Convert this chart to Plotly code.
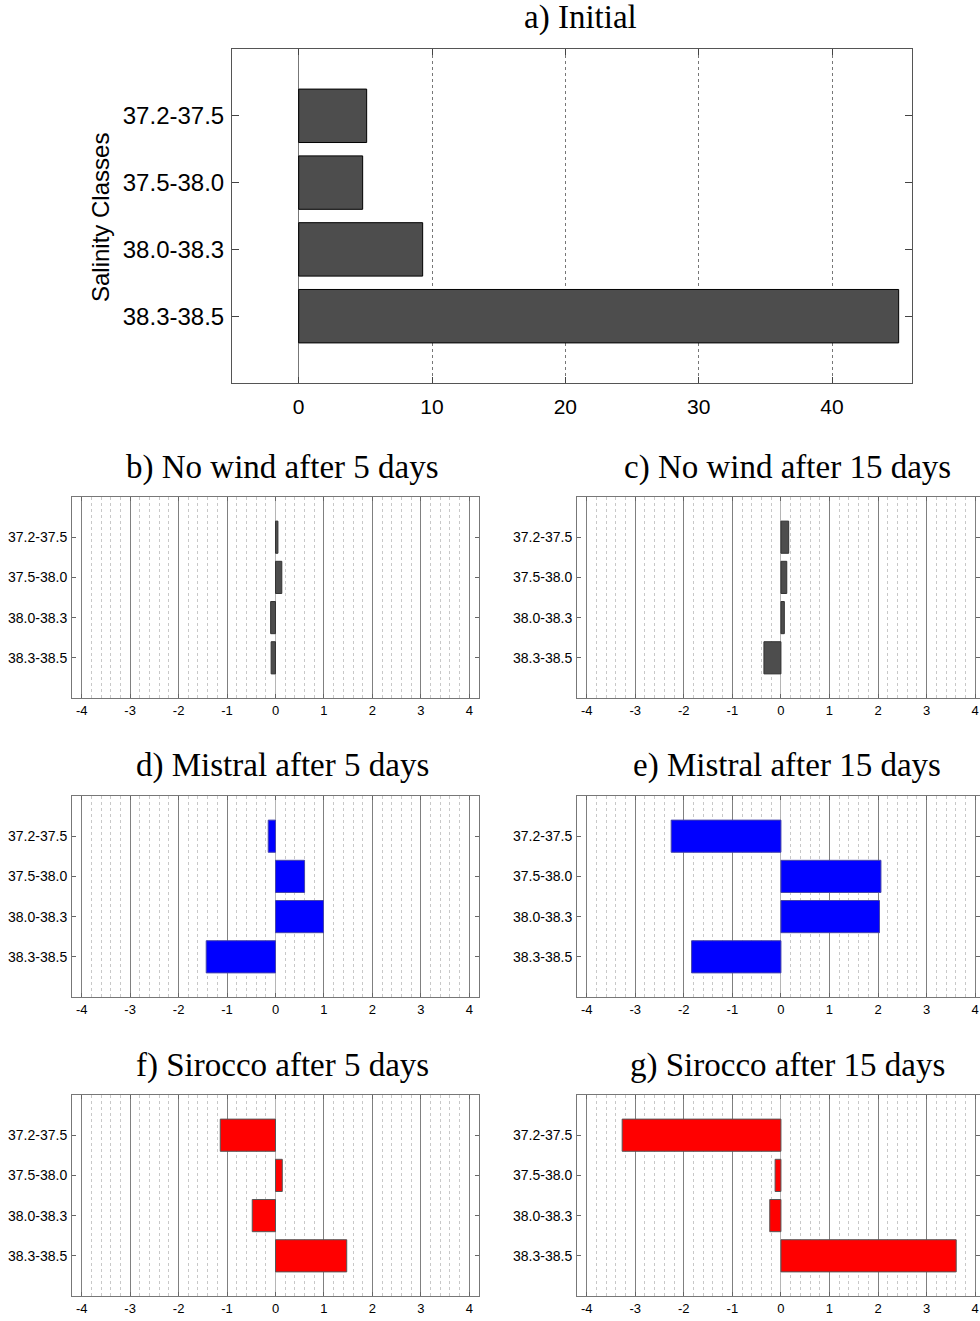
import plotly.graph_objects as go

# ---------------- data ----------------
categories = ["37.2-37.5", "37.5-38.0", "38.0-38.3", "38.3-38.5"]
initial = [5.1, 4.8, 9.3, 45.0]
nowind_5 = [0.05, 0.13, -0.10, -0.09]
nowind_15 = [0.16, 0.12, 0.07, -0.35]
mistral_5 = [-0.15, 0.60, 0.99, -1.43]
mistral_15 = [-2.26, 2.06, 2.03, -1.84]
sirocco_5 = [-1.14, 0.14, -0.48, 1.47]
sirocco_15 = [-3.27, -0.12, -0.23, 3.61]

titles = ["a) Initial",
          "b) No wind after 5 days", "c) No wind after 15 days",
          "d) Mistral after 5 days", "e) Mistral after 15 days",
          "f) Sirocco after 5 days", "g) Sirocco after 15 days"]
small_ticks = [-4, -3, -2, -1, 0, 1, 2, 3, 4]
small_tick_labels = ["-4", "-3", "-2", "-1", "0", "1", "2", "3", "4"]
top_ticks = [0, 10, 20, 30, 40]

W, H = 980, 1321
SANS = "Liberation Sans, Arial, sans-serif"
SERIF = "Liberation Serif, Times New Roman, serif"

fig = go.Figure()

def px_x(p):
    return p / W

def px_y(p):
    return 1 - p / H

# ---------------- top panel ----------------
fig.add_trace(go.Bar(
    x=initial, y=categories, orientation="h", width=0.8,
    marker=dict(color="#4d4d4d", line=dict(color="#000000", width=1)),
    xaxis="x", yaxis="y", showlegend=False, hoverinfo="x+y"))

fig.update_layout(
    xaxis=dict(domain=[px_x(232), px_x(912)], anchor="y", range=[-5, 46],
               tickvals=top_ticks, ticks="inside", ticklen=6, tickcolor="#444",
               showline=True, linecolor="#555", linewidth=1, mirror="all",
               showgrid=True, gridcolor="#777", griddash="dot", gridwidth=1,
               zeroline=True, zerolinecolor="#777", zerolinewidth=1,
               tickfont=dict(family=SANS, size=21, color="#000"),
               ticklabelstandoff=5),
    yaxis=dict(domain=[px_y(383), px_y(49)], anchor="x", type="category",
               categoryorder="array", categoryarray=categories,
               range=[4, -1], ticks="inside", ticklen=7, tickcolor="#444",
               showline=True, linecolor="#555", linewidth=1, mirror="all",
               showgrid=False, tickfont=dict(family=SANS, size=24, color="#000"),
               ticklabelstandoff=2),
)

# ---------------- small panels ----------------
series = [nowind_5, nowind_15, mistral_5, mistral_15, sirocco_5, sirocco_15]
fills = ["#4d4d4d", "#4d4d4d", "#0000ff", "#0000ff", "#ff0000", "#ff0000"]
edges = ["#333333", "#333333", "#4444aa", "#4444aa", "#555555", "#555555"]
row_px = [(497, 698), (796, 997), (1095, 1296)]
col_px = [(72, 479, [-4.2, 4.2]), (577, 980, [-4.2, 4.1])]

annotations = []
for i, vals in enumerate(series):
    r, c = divmod(i, 2)
    k = i + 2
    xa, ya = f"x{k}", f"y{k}"
    fig.add_trace(go.Bar(
        x=vals, y=categories, orientation="h", width=0.8,
        marker=dict(color=fills[i], line=dict(color=edges[i], width=1)),
        xaxis=xa, yaxis=ya, showlegend=False, hoverinfo="x+y"))
    top, bot = row_px[r]
    left, right, rng = col_px[c]
    fig.layout[f"xaxis{k}"] = dict(
        domain=[px_x(left), min(1.0, px_x(right))], anchor=ya, range=rng,
        tickvals=small_ticks, ticktext=small_tick_labels,
        ticks="inside", ticklen=4, tickcolor="#666",
        showline=True, linecolor="#777", linewidth=1, mirror="all",
        showgrid=True, gridcolor="#808080", gridwidth=1,
        minor=dict(dtick=0.2, tick0=0, showgrid=True, gridcolor="#c8c8c8",
                   griddash="dot", gridwidth=1, ticks=""),
        zeroline=True, zerolinecolor="#b5b5b5", zerolinewidth=1,
        ticklabeloverflow="allow",
        tickfont=dict(family=SANS, size=13, color="#000"))
    fig.layout[f"yaxis{k}"] = dict(
        domain=[px_y(bot), px_y(top)], anchor=xa, type="category",
        categoryorder="array", categoryarray=categories, range=[4, -1],
        ticks="inside", ticklen=4, tickcolor="#666",
        showline=True, linecolor="#777", linewidth=1, mirror="all",
        showgrid=False, tickfont=dict(family=SANS, size=14, color="#000"),
        ticklabelstandoff=1)

# ---------------- titles ----------------
title_pos = [(580, 17), (282, 467), (787, 467), (282, 766), (787, 766),
             (282, 1065), (787, 1065)]
for t, (tx, ty) in zip(titles, title_pos):
    annotations.append(dict(text=t, x=px_x(tx), y=px_y(ty), xref="paper",
                            yref="paper", xanchor="center", yanchor="middle",
                            showarrow=False,
                            font=dict(family=SERIF, size=33, color="#000")))

annotations.append(dict(text="Salinity Classes", x=px_x(100), y=px_y(218),
                        xref="paper", yref="paper", xanchor="center",
                        yanchor="middle", textangle=-90, showarrow=False,
                        font=dict(family=SANS, size=24, color="#000")))

fig.update_layout(
    width=W, height=H, margin=dict(l=0, r=0, t=0, b=0),
    paper_bgcolor="white", plot_bgcolor="white",
    annotations=annotations, bargap=0.2)

fig.write_html("out.html",
               config={"displayModeBar": False},
               post_script="document.body.style.margin='0px';"
                           "document.body.style.overflow='hidden';")
